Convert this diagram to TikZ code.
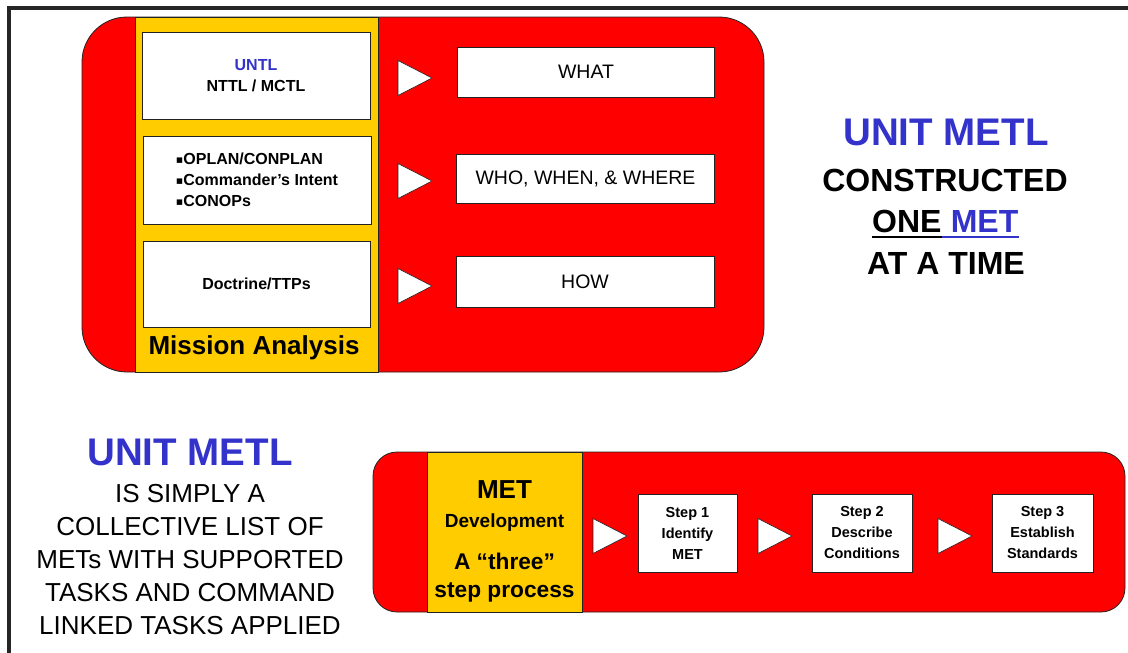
\documentclass[tikz,border=0pt]{standalone}
\usepackage{fontspec}
\setmainfont{Liberation Sans}
\newfontfamily\symfont{DejaVu Sans}
\definecolor{panelred}{HTML}{FF0000}
\definecolor{bandyellow}{HTML}{FFCC00}
\definecolor{metblue}{HTML}{3333CC}
\definecolor{edge}{HTML}{222222}
\newcommand{\fs}[2]{\fontsize{#1}{#2}\selectfont}
\newcommand{\sq}{{\symfont\fs{11}{11}\raisebox{1pt}{▪}}}

\begin{document}
\begin{tikzpicture}[x=1pt,y=-1pt,
  panel/.style={draw=edge, line width=0.8pt, fill=panelred, inner sep=0},
  band/.style={draw=edge, line width=0.8pt, fill=bandyellow, inner sep=0},
  wbox/.style={draw=edge, line width=0.8pt, fill=white, inner sep=0, align=center},
  boxtext/.style={font=\bfseries\fs{16}{21}},
  answer/.style={font=\fs{19.5}{24}},
  steptext/.style={font=\bfseries\fs{14.5}{21}},
  lbl/.style={inner sep=0, anchor=base},
  fwd/.pic={\draw[draw=edge, line width=0.6pt, fill=white]
     (0,-17.5) -- (34,0) -- (0,17.5) -- cycle;}
]
\useasboundingbox (0,0) rectangle (1128,653);
\fill[white] (0,0) rectangle (1128,653);

% outer frame, open to the right and bottom
\draw[line width=3.2pt, black!85] (9,660) |- (1135,8);

% ---------- mission analysis panel ----------
\node[panel, rounded corners=45pt, minimum width=682pt, minimum height=355pt]
  (panelA) at (423,194.5) {};
\node[band, minimum width=243pt, minimum height=355pt] (bandA) at (256.5,194.5) {};

\node[wbox, boxtext, minimum width=228pt, minimum height=87pt] (src1) at (256,75.5)
  {\textcolor{metblue}{UNTL}\\NTTL / MCTL};
\node[wbox, boxtext, minimum width=228pt, minimum height=88pt, align=left] (src2) at (257,180)
  {\sq OPLAN/CONPLAN\\\sq Commander’s Intent\\\sq CONOPs};
\node[wbox, boxtext, minimum width=227pt, minimum height=86pt] (src3) at (256.5,284)
  {Doctrine/TTPs};

\node[lbl, font=\bfseries\fs{26}{30}] (ma) at (254,354) {Mission Analysis};

\pic (a1) at (398,78) {fwd};
\pic (a2) at (398,181) {fwd};
\pic (a3) at (398,286) {fwd};

\node[wbox, answer, minimum width=257pt, minimum height=50pt] (what) at (586,72) {WHAT};
\node[wbox, answer, minimum width=258pt, minimum height=49pt] (who) at (585.5,178.5) {WHO, WHEN, \& WHERE};
\node[wbox, answer, minimum width=258pt, minimum height=51pt] (how) at (585,281.5) {HOW};

% ---------- right-hand statement ----------
\node[lbl, font=\bfseries\fs{38.5}{40}, text=metblue] (rt1) at (946,145) {UNIT METL};
\node[lbl, font=\bfseries\fs{32}{36}] (rt2) at (945,191.5) {CONSTRUCTED};
\node[lbl, anchor=base west, font=\bfseries\fs{32}{36}] (rt3a) at (872,232) {ONE};
\node[lbl, anchor=base west, font=\bfseries\fs{32}{36}, text=metblue] (rt3b) at (rt3a.base east) {\ MET};
\draw[line width=2pt, black] ([yshift=-5pt]rt3a.base west) -- ([yshift=-5pt]rt3a.base east);
\draw[line width=2pt, metblue] ([yshift=-5pt]rt3b.base west) -- ([yshift=-5pt]rt3b.base east);
\node[lbl, font=\bfseries\fs{32}{36}] (rt4) at (946,274) {AT A TIME};

% ---------- left-hand statement ----------
\node[lbl, font=\bfseries\fs{38.5}{40}, text=metblue] (lt0) at (190,465) {UNIT METL};
\node[lbl, font=\fs{26}{30}] (lt1) at (190,502.5) {IS SIMPLY A};
\node[lbl, font=\fs{26}{30}] (lt2) at (190,535) {COLLECTIVE LIST OF};
\node[lbl, font=\fs{26}{30}] (lt3) at (190,568) {METs WITH SUPPORTED};
\node[lbl, font=\fs{26}{30}] (lt4) at (190,601) {TASKS AND COMMAND};
\node[lbl, font=\fs{26}{30}] (lt5) at (190,634) {LINKED TASKS APPLIED};

% ---------- MET development panel ----------
\node[panel, rounded corners=24pt, minimum width=752pt, minimum height=160pt]
  (panelB) at (749,532) {};
\node[band, minimum width=155pt, minimum height=160pt] (bandB) at (504.5,532) {};

\node[lbl, font=\bfseries\fs{26}{30}] (md1) at (504.5,498) {MET};
\node[lbl, font=\bfseries\fs{19}{22}] (md2) at (504.5,527) {Development};
\node[lbl, font=\bfseries\fs{22.7}{26}] (md3) at (504.5,569) {A “three”};
\node[lbl, font=\bfseries\fs{22.7}{26}] (md4) at (504.5,597) {step process};

\pic (b1) at (593,536) {fwd};
\pic (b2) at (758,536) {fwd};
\pic (b3) at (938,536) {fwd};

\node[wbox, steptext, minimum width=99pt, minimum height=78pt] (s1) at (687.5,533)
  {Step 1\\Identify\\MET};
\node[wbox, steptext, minimum width=100pt, minimum height=78pt] (s2) at (862,533)
  {Step 2\\Describe\\Conditions};
\node[wbox, steptext, minimum width=101pt, minimum height=78pt] (s3) at (1042.5,533)
  {Step 3\\Establish\\Standards};
\end{tikzpicture}
\end{document}
